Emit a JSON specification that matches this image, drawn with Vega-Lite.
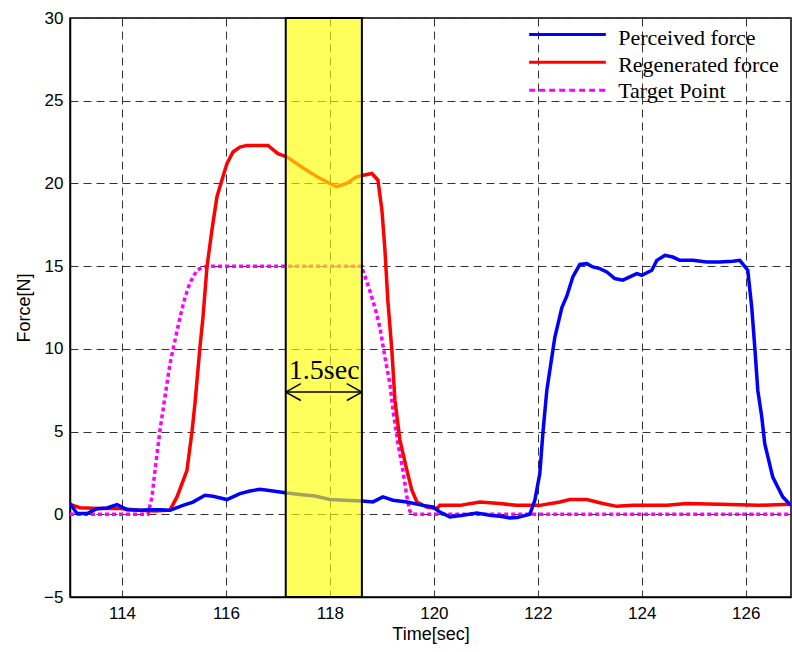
{
  "$schema": "https://vega.github.io/schema/vega-lite/v6.json",
  "width": 721,
  "height": 579,
  "autosize": "none",
  "padding": {"left": 70, "top": 18, "right": 1, "bottom": 55},
  "background": "white",
  "config": {
    "view": {"stroke": "black", "strokeWidth": 1.5},
    "axis": {
      "labelFont": "Liberation Sans", "labelFontSize": 17, "labelColor": "black",
      "titleFont": "Liberation Sans", "titleFontSize": 18, "titleFontWeight": "normal", "titleColor": "black",
      "domainColor": "black", "domainWidth": 1.5,
      "ticks": false,
      "grid": true, "gridColor": "#333333", "gridDash": [8, 5], "gridWidth": 1, "gridOpacity": 1
    }
  },
  "datasets": {
    "curves": [
      {"series":"Target Point","t":113.0,"f":0},{"series":"Target Point","t":114.5,"f":0},{"series":"Target Point","t":114.577,"f":1.05},{"series":"Target Point","t":114.635,"f":2.66},{"series":"Target Point","t":114.731,"f":5.08},{"series":"Target Point","t":114.827,"f":7.1},{"series":"Target Point","t":114.923,"f":9.1},{"series":"Target Point","t":115.019,"f":10.5},{"series":"Target Point","t":115.115,"f":11.9},{"series":"Target Point","t":115.212,"f":13.1},{"series":"Target Point","t":115.308,"f":14.0},{"series":"Target Point","t":115.442,"f":14.75},{"series":"Target Point","t":115.558,"f":14.95},{"series":"Target Point","t":115.692,"f":15},{"series":"Target Point","t":118.615,"f":15},{"series":"Target Point","t":118.635,"f":14.75},{"series":"Target Point","t":118.769,"f":13.5},{"series":"Target Point","t":118.865,"f":12.5},{"series":"Target Point","t":118.962,"f":11.3},{"series":"Target Point","t":119.058,"f":9.5},{"series":"Target Point","t":119.154,"f":7.9},{"series":"Target Point","t":119.212,"f":6.3},{"series":"Target Point","t":119.308,"f":4.27},{"series":"Target Point","t":119.404,"f":2.66},{"series":"Target Point","t":119.481,"f":1.05},{"series":"Target Point","t":119.538,"f":0.2},{"series":"Target Point","t":119.577,"f":0},{"series":"Target Point","t":126.865,"f":0},
      {"series":"Regenerated force","t":113.0,"f":0.6},{"series":"Regenerated force","t":113.192,"f":0.4},{"series":"Regenerated force","t":113.577,"f":0.35},{"series":"Regenerated force","t":113.962,"f":0.35},{"series":"Regenerated force","t":114.346,"f":0.25},{"series":"Regenerated force","t":114.635,"f":0.2},{"series":"Regenerated force","t":114.923,"f":0.25},{"series":"Regenerated force","t":115.058,"f":1.05},{"series":"Regenerated force","t":115.173,"f":2.0},{"series":"Regenerated force","t":115.25,"f":2.66},{"series":"Regenerated force","t":115.346,"f":4.98},{"series":"Regenerated force","t":115.404,"f":6.7},{"series":"Regenerated force","t":115.5,"f":10.1},{"series":"Regenerated force","t":115.558,"f":11.9},{"series":"Regenerated force","t":115.635,"f":14.95},{"series":"Regenerated force","t":115.731,"f":17.2},{"series":"Regenerated force","t":115.827,"f":19.2},{"series":"Regenerated force","t":115.942,"f":20.4},{"series":"Regenerated force","t":116.019,"f":21.2},{"series":"Regenerated force","t":116.135,"f":21.9},{"series":"Regenerated force","t":116.269,"f":22.2},{"series":"Regenerated force","t":116.404,"f":22.3},{"series":"Regenerated force","t":116.808,"f":22.3},{"series":"Regenerated force","t":117.0,"f":21.8},{"series":"Regenerated force","t":117.173,"f":21.6},{"series":"Regenerated force","t":117.5,"f":20.9},{"series":"Regenerated force","t":117.756,"f":20.4},{"series":"Regenerated force","t":118.0,"f":20.0},{"series":"Regenerated force","t":118.128,"f":19.8},{"series":"Regenerated force","t":118.321,"f":20.0},{"series":"Regenerated force","t":118.513,"f":20.4},{"series":"Regenerated force","t":118.641,"f":20.5},{"series":"Regenerated force","t":118.808,"f":20.6},{"series":"Regenerated force","t":118.923,"f":20.2},{"series":"Regenerated force","t":119.0,"f":18.4},{"series":"Regenerated force","t":119.058,"f":16.0},{"series":"Regenerated force","t":119.115,"f":12.9},{"series":"Regenerated force","t":119.192,"f":9.9},{"series":"Regenerated force","t":119.25,"f":6.9},{"series":"Regenerated force","t":119.346,"f":4.5},{"series":"Regenerated force","t":119.481,"f":2.66},{"series":"Regenerated force","t":119.577,"f":1.45},{"series":"Regenerated force","t":119.673,"f":0.74},{"series":"Regenerated force","t":119.865,"f":0.44},{"series":"Regenerated force","t":120.058,"f":0.34},{"series":"Regenerated force","t":120.115,"f":0.54},{"series":"Regenerated force","t":120.5,"f":0.54},{"series":"Regenerated force","t":120.885,"f":0.74},{"series":"Regenerated force","t":121.269,"f":0.65},{"series":"Regenerated force","t":121.596,"f":0.54},{"series":"Regenerated force","t":122.038,"f":0.54},{"series":"Regenerated force","t":122.423,"f":0.74},{"series":"Regenerated force","t":122.615,"f":0.89},{"series":"Regenerated force","t":122.942,"f":0.89},{"series":"Regenerated force","t":123.25,"f":0.65},{"series":"Regenerated force","t":123.519,"f":0.48},{"series":"Regenerated force","t":123.827,"f":0.54},{"series":"Regenerated force","t":124.481,"f":0.54},{"series":"Regenerated force","t":124.865,"f":0.65},{"series":"Regenerated force","t":125.5,"f":0.6},{"series":"Regenerated force","t":126.269,"f":0.55},{"series":"Regenerated force","t":126.865,"f":0.6},
      {"series":"Perceived force","t":113.0,"f":0.65},{"series":"Perceived force","t":113.135,"f":0.04},{"series":"Perceived force","t":113.327,"f":0.04},{"series":"Perceived force","t":113.519,"f":0.34},{"series":"Perceived force","t":113.712,"f":0.38},{"series":"Perceived force","t":113.904,"f":0.59},{"series":"Perceived force","t":114.096,"f":0.28},{"series":"Perceived force","t":114.346,"f":0.24},{"series":"Perceived force","t":114.538,"f":0.28},{"series":"Perceived force","t":114.731,"f":0.28},{"series":"Perceived force","t":114.923,"f":0.24},{"series":"Perceived force","t":115.173,"f":0.54},{"series":"Perceived force","t":115.365,"f":0.74},{"series":"Perceived force","t":115.596,"f":1.15},{"series":"Perceived force","t":115.75,"f":1.09},{"series":"Perceived force","t":116.019,"f":0.89},{"series":"Perceived force","t":116.269,"f":1.25},{"series":"Perceived force","t":116.462,"f":1.41},{"series":"Perceived force","t":116.654,"f":1.51},{"series":"Perceived force","t":116.904,"f":1.41},{"series":"Perceived force","t":117.173,"f":1.29},{"series":"Perceived force","t":117.423,"f":1.2},{"series":"Perceived force","t":117.712,"f":1.1},{"series":"Perceived force","t":118.0,"f":0.9},{"series":"Perceived force","t":118.288,"f":0.85},{"series":"Perceived force","t":118.615,"f":0.8},{"series":"Perceived force","t":118.827,"f":0.75},{"series":"Perceived force","t":119.019,"f":1.05},{"series":"Perceived force","t":119.212,"f":0.85},{"series":"Perceived force","t":119.481,"f":0.74},{"series":"Perceived force","t":119.788,"f":0.54},{"series":"Perceived force","t":119.981,"f":0.44},{"series":"Perceived force","t":120.115,"f":0.14},{"series":"Perceived force","t":120.308,"f":-0.16},{"series":"Perceived force","t":120.558,"f":-0.06},{"series":"Perceived force","t":120.827,"f":0.08},{"series":"Perceived force","t":121.077,"f":-0.06},{"series":"Perceived force","t":121.269,"f":-0.12},{"series":"Perceived force","t":121.462,"f":-0.22},{"series":"Perceived force","t":121.596,"f":-0.2},{"series":"Perceived force","t":121.846,"f":0.0},{"series":"Perceived force","t":121.942,"f":0.85},{"series":"Perceived force","t":122.038,"f":2.46},{"series":"Perceived force","t":122.096,"f":4.88},{"series":"Perceived force","t":122.173,"f":7.5},{"series":"Perceived force","t":122.269,"f":9.5},{"series":"Perceived force","t":122.327,"f":10.7},{"series":"Perceived force","t":122.462,"f":12.5},{"series":"Perceived force","t":122.558,"f":13.2},{"series":"Perceived force","t":122.673,"f":14.35},{"series":"Perceived force","t":122.808,"f":15.1},{"series":"Perceived force","t":122.942,"f":15.15},{"series":"Perceived force","t":123.058,"f":14.95},{"series":"Perceived force","t":123.192,"f":14.85},{"series":"Perceived force","t":123.327,"f":14.65},{"series":"Perceived force","t":123.481,"f":14.25},{"series":"Perceived force","t":123.635,"f":14.15},{"series":"Perceived force","t":123.769,"f":14.35},{"series":"Perceived force","t":123.904,"f":14.55},{"series":"Perceived force","t":124.0,"f":14.45},{"series":"Perceived force","t":124.192,"f":14.75},{"series":"Perceived force","t":124.288,"f":15.35},{"series":"Perceived force","t":124.442,"f":15.65},{"series":"Perceived force","t":124.596,"f":15.55},{"series":"Perceived force","t":124.731,"f":15.35},{"series":"Perceived force","t":124.981,"f":15.35},{"series":"Perceived force","t":125.25,"f":15.25},{"series":"Perceived force","t":125.5,"f":15.25},{"series":"Perceived force","t":125.75,"f":15.3},{"series":"Perceived force","t":125.885,"f":15.35},{"series":"Perceived force","t":126.038,"f":14.75},{"series":"Perceived force","t":126.115,"f":12.5},{"series":"Perceived force","t":126.173,"f":10.1},{"series":"Perceived force","t":126.231,"f":7.5},{"series":"Perceived force","t":126.308,"f":5.88},{"series":"Perceived force","t":126.365,"f":4.27},{"series":"Perceived force","t":126.519,"f":2.25},{"series":"Perceived force","t":126.712,"f":1.05},{"series":"Perceived force","t":126.865,"f":0.54}
    ],
    "one": [{"label": "1.5sec"}]
  },
  "layer": [
    {
      "data": {"name": "curves"},
      "transform": [{"filter": "datum.series == 'Target Point'"}],
      "mark": {"type": "line", "color": "#ff00ff", "strokeWidth": 3.5, "strokeDash": [4, 3], "clip": true},
      "encoding": {
        "x": {
          "field": "t", "type": "quantitative",
          "scale": {"domain": [113, 126.87], "nice": false, "zero": false},
          "axis": {"title": "Time[sec]", "values": [114, 116, 118, 120, 122, 124, 126], "labelPadding": 8, "titlePadding": 4}
        },
        "y": {
          "field": "f", "type": "quantitative",
          "scale": {"domain": [-5, 30], "nice": false, "zero": false},
          "axis": {"title": "Force[N]", "values": [-5, 0, 5, 10, 15, 20, 25, 30], "labelPadding": 7, "titlePadding": 10}
        }
      }
    },
    {
      "data": {"name": "curves"},
      "transform": [{"filter": "datum.series == 'Regenerated force'"}],
      "mark": {"type": "line", "color": "#ff0000", "strokeWidth": 3.5, "clip": true},
      "encoding": {"x": {"field": "t", "type": "quantitative"}, "y": {"field": "f", "type": "quantitative"}}
    },
    {
      "data": {"name": "curves"},
      "transform": [{"filter": "datum.series == 'Perceived force'"}],
      "mark": {"type": "line", "color": "#0000ff", "strokeWidth": 3.5, "clip": true},
      "encoding": {"x": {"field": "t", "type": "quantitative"}, "y": {"field": "f", "type": "quantitative"}}
    },
    {
      "data": {"name": "one"},
      "mark": {"type": "rect", "fill": "#ffff00", "fillOpacity": 0.64, "stroke": "black", "strokeWidth": 2},
      "encoding": {"x": {"datum": 117.15, "type": "quantitative"}, "x2": {"datum": 118.615}, "y": {"datum": -5, "type": "quantitative"}, "y2": {"datum": 30}}
    },
    {
      "data": {"name": "one"},
      "mark": {"type": "rule", "color": "black", "strokeWidth": 1.5},
      "encoding": {"x": {"datum": 117.15, "type": "quantitative"}, "x2": {"datum": 118.615}, "y": {"datum": 7.39, "type": "quantitative"}}
    },
    {
      "data": {"name": "one"},
      "mark": {"type": "rule", "color": "black", "strokeWidth": 1.5},
      "encoding": {"x": {"datum": 117.15, "type": "quantitative"}, "x2": {"datum": 117.44}, "y": {"datum": 7.39, "type": "quantitative"}, "y2": {"datum": 7.9}}
    },
    {
      "data": {"name": "one"},
      "mark": {"type": "rule", "color": "black", "strokeWidth": 1.5},
      "encoding": {"x": {"datum": 117.15, "type": "quantitative"}, "x2": {"datum": 117.44}, "y": {"datum": 7.39, "type": "quantitative"}, "y2": {"datum": 6.88}}
    },
    {
      "data": {"name": "one"},
      "mark": {"type": "rule", "color": "black", "strokeWidth": 1.5},
      "encoding": {"x": {"datum": 118.615, "type": "quantitative"}, "x2": {"datum": 118.325}, "y": {"datum": 7.39, "type": "quantitative"}, "y2": {"datum": 7.9}}
    },
    {
      "data": {"name": "one"},
      "mark": {"type": "rule", "color": "black", "strokeWidth": 1.5},
      "encoding": {"x": {"datum": 118.615, "type": "quantitative"}, "x2": {"datum": 118.325}, "y": {"datum": 7.39, "type": "quantitative"}, "y2": {"datum": 6.88}}
    },
    {
      "data": {"name": "one"},
      "mark": {"type": "text", "font": "Liberation Serif", "fontSize": 28, "color": "black", "align": "center", "baseline": "alphabetic"},
      "encoding": {"x": {"datum": 117.89, "type": "quantitative"}, "y": {"datum": 8.2, "type": "quantitative"}, "text": {"field": "label"}}
    },
    {
      "data": {"name": "one"},
      "mark": {"type": "rule", "color": "#0000ff", "strokeWidth": 3},
      "encoding": {"x": {"datum": 121.833, "type": "quantitative"}, "x2": {"datum": 123.308}, "y": {"datum": 29.0, "type": "quantitative"}}
    },
    {
      "data": {"name": "one"},
      "mark": {"type": "rule", "color": "#ff0000", "strokeWidth": 3},
      "encoding": {"x": {"datum": 121.833, "type": "quantitative"}, "x2": {"datum": 123.308}, "y": {"datum": 27.33, "type": "quantitative"}}
    },
    {
      "data": {"name": "one"},
      "mark": {"type": "rule", "color": "#ff00ff", "strokeWidth": 3, "strokeDash": [6, 4]},
      "encoding": {"x": {"datum": 121.833, "type": "quantitative"}, "x2": {"datum": 123.308}, "y": {"datum": 25.63, "type": "quantitative"}}
    },
    {
      "data": {"name": "one"},
      "mark": {"type": "text", "font": "Liberation Serif", "fontSize": 22, "color": "black", "align": "left", "baseline": "alphabetic", "text": "Perceived force"},
      "encoding": {"x": {"datum": 123.545, "type": "quantitative"}, "y": {"datum": 28.35, "type": "quantitative"}}
    },
    {
      "data": {"name": "one"},
      "mark": {"type": "text", "font": "Liberation Serif", "fontSize": 22, "color": "black", "align": "left", "baseline": "alphabetic", "text": "Regenerated force"},
      "encoding": {"x": {"datum": 123.545, "type": "quantitative"}, "y": {"datum": 26.75, "type": "quantitative"}}
    },
    {
      "data": {"name": "one"},
      "mark": {"type": "text", "font": "Liberation Serif", "fontSize": 22, "color": "black", "align": "left", "baseline": "alphabetic", "text": "Target Point"},
      "encoding": {"x": {"datum": 123.545, "type": "quantitative"}, "y": {"datum": 25.15, "type": "quantitative"}}
    }
  ]
}
